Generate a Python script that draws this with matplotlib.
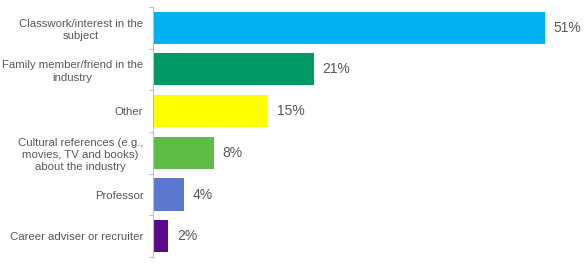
import numpy as np
import matplotlib
matplotlib.use('Agg')
import matplotlib.pyplot as plt

plt.rcParams['font.family'] = ['Liberation Sans', 'DejaVu Sans']

# =============================================================================
# DATA
# =============================================================================
categories = [
    "Classwork/interest in the\nsubject",
    "Family member/friend in the\nindustry",
    "Other",
    "Cultural references (e.g.,\nmovies, TV and books)\nabout the industry",
    "Professor",
    "Career adviser or recruiter",
]
values = [51, 21, 15, 8, 4, 2]
bar_colors = ['#00B0F0', '#009966', '#FFFF00', '#5DBB46', '#5B78D0', '#5C0A8C']

TEXT_GRAY = '#595959'
AXIS_GRAY = '#BFBFBF'

# =============================================================================
# PLOT
# =============================================================================
fig = plt.figure(figsize=(5.84, 2.65), dpi=100)
ax = fig.add_axes([0.262, 0.030, 0.723, 0.944])

y = np.arange(len(categories))
ax.barh(y, values, height=0.77, color=bar_colors, edgecolor='none')
ax.set_ylim(len(categories) - 0.5, -0.5)
ax.set_xlim(0, 55)

for yi, v in zip(y, values):
    ax.text(v + 1.1, yi, f"{v}%", va='center', ha='left',
            fontsize=10, color=TEXT_GRAY)

ax.set_yticks(y)
ax.set_yticklabels(categories, fontsize=8.2, color=TEXT_GRAY,
                   multialignment='center', linespacing=1.3)
ax.tick_params(axis='y', which='major', length=0, pad=7)
ax.set_yticks(np.arange(-0.5, len(categories)), minor=True)
ax.tick_params(axis='y', which='minor', length=3, color=AXIS_GRAY, width=0.8)

ax.set_xticks([])
for side in ['top', 'right', 'bottom']:
    ax.spines[side].set_visible(False)
ax.spines['left'].set_color(AXIS_GRAY)
ax.spines['left'].set_linewidth(0.8)

fig.savefig('out.png', dpi=100)
